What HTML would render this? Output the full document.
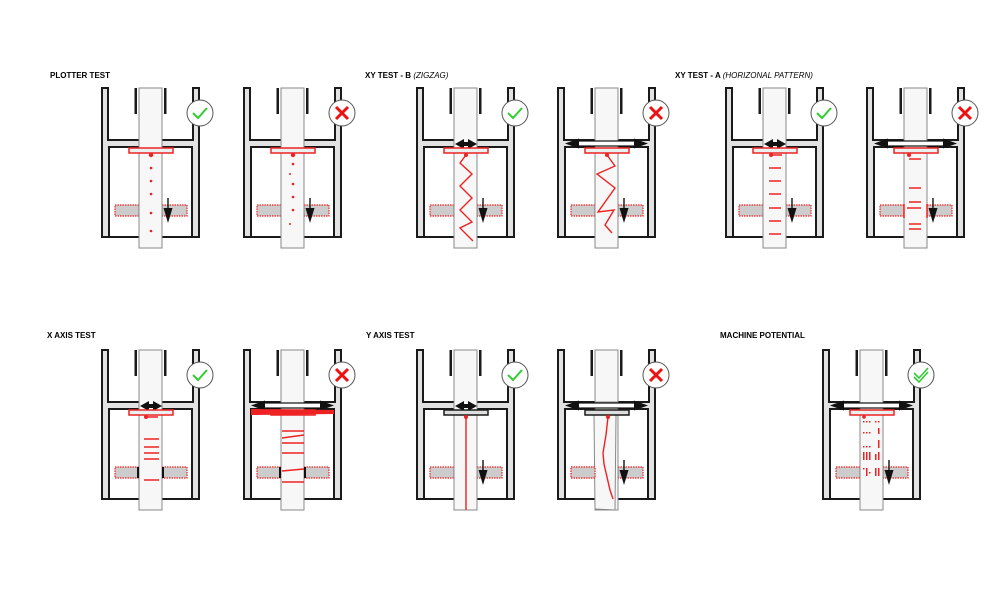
<!DOCTYPE html>
<html><head><meta charset="utf-8"><style>
html,body{margin:0;padding:0;background:#fff;}
svg{display:block;}
text{font-family:"Liberation Sans",Arial,sans-serif;font-size:8px;font-weight:bold;fill:#000;}
</style></head><body>
<svg width="1000" height="589" viewBox="0 0 1000 589" xmlns="http://www.w3.org/2000/svg">
<defs>
<g id="frame">
  <path d="M0,0 H6 V52 H91 V0 H97 V149 H90 V59 H7 V149 H0 Z" fill="#e2e2e2" stroke="#1a1a1a" stroke-width="2"/>
  <rect x="7" y="59" width="83" height="90" fill="#fff" stroke="#1a1a1a" stroke-width="2"/>
  <rect x="13" y="117" width="24" height="11" fill="#ccc" stroke="#e22" stroke-width="1.2" stroke-dasharray="1.5 1"/>
  <rect x="60" y="117" width="25" height="11" fill="#ccc" stroke="#e22" stroke-width="1.2" stroke-dasharray="1.5 1"/>
  <rect x="37" y="0" width="23" height="160" fill="#f7f7f7" stroke="#888" stroke-width="1"/>
  <rect x="32.5" y="0" width="2.5" height="26" fill="#1a1a1a"/>
  <rect x="62" y="0" width="2.5" height="26" fill="#1a1a1a"/>
</g>
<g id="carR"><rect x="27" y="60" width="44" height="5" fill="#e8f0f0" stroke="#e22" stroke-width="1.5"/></g>
<g id="carK"><rect x="27" y="60" width="44" height="5" fill="#ddd" stroke="#1a1a1a" stroke-width="1.5"/></g>
<g id="arrow"><line x1="66" y1="110" x2="66" y2="126" stroke="#111" stroke-width="1.4"/><path d="M61.5,120 L66,135 L70.5,120 Z" fill="#111"/></g>
<g id="ok"><circle cx="98" cy="25" r="13" fill="#fff" stroke="#555" stroke-width="1"/><path d="M91,25 L96,30 L105,20" fill="none" stroke="#3c3" stroke-width="2"/></g>
<g id="no"><circle cx="98" cy="25" r="13" fill="#fff" stroke="#555" stroke-width="1"/><path d="M92,19 L104,31 M104,19 L92,31" stroke="#e11" stroke-width="3"/></g>
<g id="smallArr"><path d="M38,56 L47,51 L47,54 L51,54 L51,51 L60,56 L51,61 L51,58 L47,58 L47,61 Z" fill="#111"/></g>
<g id="bigArr"><rect x="20" y="53" width="57" height="5" fill="#fff" stroke="#111" stroke-width="1.2"/><path d="M7,55.5 L21,50.5 L21,60.5 Z M90,55.5 L76,50.5 L76,60.5 Z" fill="#111"/></g>
</defs>

<text x="50" y="78">PLOTTER TEST</text>
<text x="365" y="78">XY TEST - B <tspan font-weight="normal" font-style="italic">(ZIGZAG)</tspan></text>
<text x="675" y="78">XY TEST -  A <tspan font-weight="normal" font-style="italic">(HORIZONAL PATTERN)</tspan></text>
<text x="47" y="338">X AXIS TEST</text>
<text x="366" y="338">Y AXIS TEST</text>
<text x="720" y="338">MACHINE POTENTIAL</text>

<g transform="translate(102,88)">
  <use href="#frame"/><use href="#carR"/>
  <g fill="#e22"><circle cx="49" cy="67" r="2.2"/><circle cx="49" cy="80" r="1.3"/><circle cx="49" cy="93" r="1.3"/><circle cx="49" cy="106" r="1.3"/><circle cx="49" cy="125" r="1.3"/><circle cx="49" cy="143" r="1.3"/></g>
  <use href="#arrow"/><use href="#ok"/>
</g>
<g transform="translate(244,88)">
  <use href="#frame"/><use href="#carR"/>
  <g fill="#e22"><circle cx="49" cy="67" r="2.2"/><circle cx="49" cy="76" r="1.3"/><circle cx="46" cy="86" r="1"/><circle cx="49" cy="96" r="1.3"/><circle cx="49" cy="109" r="1.3"/><circle cx="49" cy="122" r="1.3"/><circle cx="46" cy="136" r="1"/></g>
  <use href="#arrow"/><use href="#no"/>
</g>
<g transform="translate(417,88)">
  <use href="#frame"/><use href="#smallArr"/><use href="#carR"/>
  <circle cx="49" cy="67" r="2" fill="#e22"/>
  <polyline points="49,67 43,75 55,86 43,98 55,110 43,122 55,134 43,140 56,153" fill="none" stroke="#e22" stroke-width="1.4"/>
  <use href="#arrow"/><use href="#ok"/>
</g>
<g transform="translate(558,88)">
  <use href="#frame"/><use href="#bigArr"/><use href="#carR"/>
  <circle cx="49" cy="67" r="2" fill="#e22"/>
  <polyline points="49,67 57,78 39,86 57,100 40,124 56,122 47,137 54,145" fill="none" stroke="#e22" stroke-width="1.4"/>
  <use href="#arrow"/><use href="#no"/>
</g>
<g transform="translate(726,88)">
  <use href="#frame"/><use href="#smallArr"/><use href="#carR"/>
  <circle cx="45" cy="67" r="2" fill="#e22"/>
  <g stroke="#e22" stroke-width="1.5"><line x1="45" y1="67" x2="56" y2="67"/><line x1="43" y1="80" x2="55" y2="80"/><line x1="43" y1="93" x2="55" y2="93"/><line x1="43" y1="106" x2="55" y2="106"/><line x1="43" y1="120" x2="55" y2="120"/><line x1="43" y1="133" x2="55" y2="133"/><line x1="43" y1="146" x2="55" y2="146"/></g>
  <use href="#arrow"/><use href="#ok"/>
</g>
<g transform="translate(867,88)">
  <use href="#frame"/><use href="#bigArr"/><use href="#carR"/>
  <circle cx="42" cy="67" r="2" fill="#e22"/>
  <g stroke="#e22" stroke-width="1.5"><line x1="42" y1="71" x2="54" y2="71"/><line x1="42" y1="100" x2="54" y2="100"/><line x1="42" y1="114" x2="54" y2="114"/><line x1="40" y1="120" x2="54" y2="120"/><line x1="42" y1="136" x2="54" y2="136"/><line x1="42" y1="141" x2="54" y2="141"/><line x1="37" y1="116" x2="37" y2="130"/><line x1="60" y1="116" x2="60" y2="130"/></g>
  <use href="#arrow"/><use href="#no"/>
</g>

<g transform="translate(102,350)">
  <use href="#frame"/><use href="#smallArr"/><use href="#carR"/>
  <circle cx="44" cy="67" r="2" fill="#e22"/>
  <g stroke="#e22" stroke-width="1.5"><line x1="44" y1="67" x2="56" y2="67"/><line x1="42" y1="89" x2="57" y2="89"/><line x1="42" y1="97" x2="57" y2="97"/><line x1="42" y1="103" x2="57" y2="103"/><line x1="42" y1="109" x2="57" y2="109"/><line x1="42" y1="130" x2="57" y2="130"/></g>
  <rect x="35" y="117" width="2" height="11" fill="#111"/><rect x="60" y="117" width="2" height="11" fill="#111"/>
  <use href="#ok"/>
</g>
<g transform="translate(244,350)">
  <use href="#frame"/><use href="#bigArr"/><use href="#carR"/>
  <path d="M7,59 L90,60 L90,64 L7,65 Z" fill="#e22"/>
  <g stroke="#e22" stroke-width="1.4"><line x1="38" y1="81" x2="60" y2="81"/><line x1="38" y1="88" x2="60" y2="85"/><line x1="38" y1="93" x2="60" y2="93"/><line x1="38" y1="103" x2="60" y2="103"/><line x1="38" y1="121" x2="60" y2="119"/><line x1="38" y1="132" x2="60" y2="132"/></g>
  <rect x="35" y="117" width="2" height="11" fill="#111"/><rect x="60" y="117" width="2" height="11" fill="#111"/>
  <use href="#no"/>
</g>
<g transform="translate(417,350)">
  <use href="#frame"/><use href="#smallArr"/><use href="#carK"/>
  <circle cx="49" cy="67" r="2" fill="#e22"/>
  <line x1="49" y1="67" x2="49" y2="160" stroke="#e22" stroke-width="1.4"/>
  <use href="#arrow"/><use href="#ok"/>
</g>
<g transform="translate(558,350)">
  <use href="#frame"/>
  <rect x="37" y="0" width="23" height="52" fill="#f7f7f7" stroke="#888" stroke-width="1"/>
  <polygon points="36,65 58,65 57,160 37,159" fill="#f7f7f7" stroke="#888" stroke-width="1"/>
  <rect x="13" y="117" width="24" height="11" fill="#ccc" stroke="#e22" stroke-width="1.2" stroke-dasharray="1.5 1"/>
  <use href="#bigArr"/><use href="#carK"/>
  <polyline points="50,67 48,85 45,103 46,114 52,140 55,149" fill="none" stroke="#e22" stroke-width="1.4"/>
  <circle cx="50" cy="67" r="2" fill="#e22"/>
  <use href="#arrow"/><use href="#no"/>
</g>
<g transform="translate(823,350)">
  <use href="#frame"/><use href="#bigArr"/><use href="#carR"/>
  <g fill="#e22">
    <circle cx="41" cy="67" r="1.8"/>
    <rect x="40" y="71" width="1.5" height="1.5"/><rect x="43" y="71" width="1.5" height="1.5"/><rect x="46" y="71" width="1.5" height="1.5"/><rect x="52" y="71" width="1.5" height="1.5"/><rect x="55" y="71" width="1.5" height="1.5"/>
    <rect x="40" y="82" width="1.5" height="1.5"/><rect x="43" y="82" width="1.5" height="1.5"/><rect x="46" y="82" width="1.5" height="1.5"/><rect x="55" y="78" width="1.5" height="6"/>
    <rect x="40" y="96" width="1.5" height="1.5"/><rect x="43" y="96" width="1.5" height="1.5"/><rect x="46" y="96" width="1.5" height="1.5"/><rect x="55" y="90" width="1.5" height="8"/>
    <rect x="40" y="102" width="1.5" height="8"/><rect x="43" y="102" width="1.5" height="8"/><rect x="46" y="102" width="1.5" height="8"/><rect x="52" y="104" width="1.5" height="6"/><rect x="55" y="102" width="1.5" height="8"/>
    <rect x="40" y="118" width="1.5" height="1.5"/><rect x="43" y="118" width="1.5" height="8"/><rect x="46" y="122" width="1.5" height="1.5"/><rect x="52" y="118" width="1.5" height="8"/><rect x="55" y="118" width="1.5" height="8"/>
  </g>
  <use href="#arrow"/>
  <circle cx="98" cy="25" r="13" fill="#fff" stroke="#555" stroke-width="1"/>
  <path d="M91,23 L96,28 L105,18 M91,27 L96,32 L105,22" fill="none" stroke="#3c3" stroke-width="1.6"/>
</g>
</svg>
</body></html>
